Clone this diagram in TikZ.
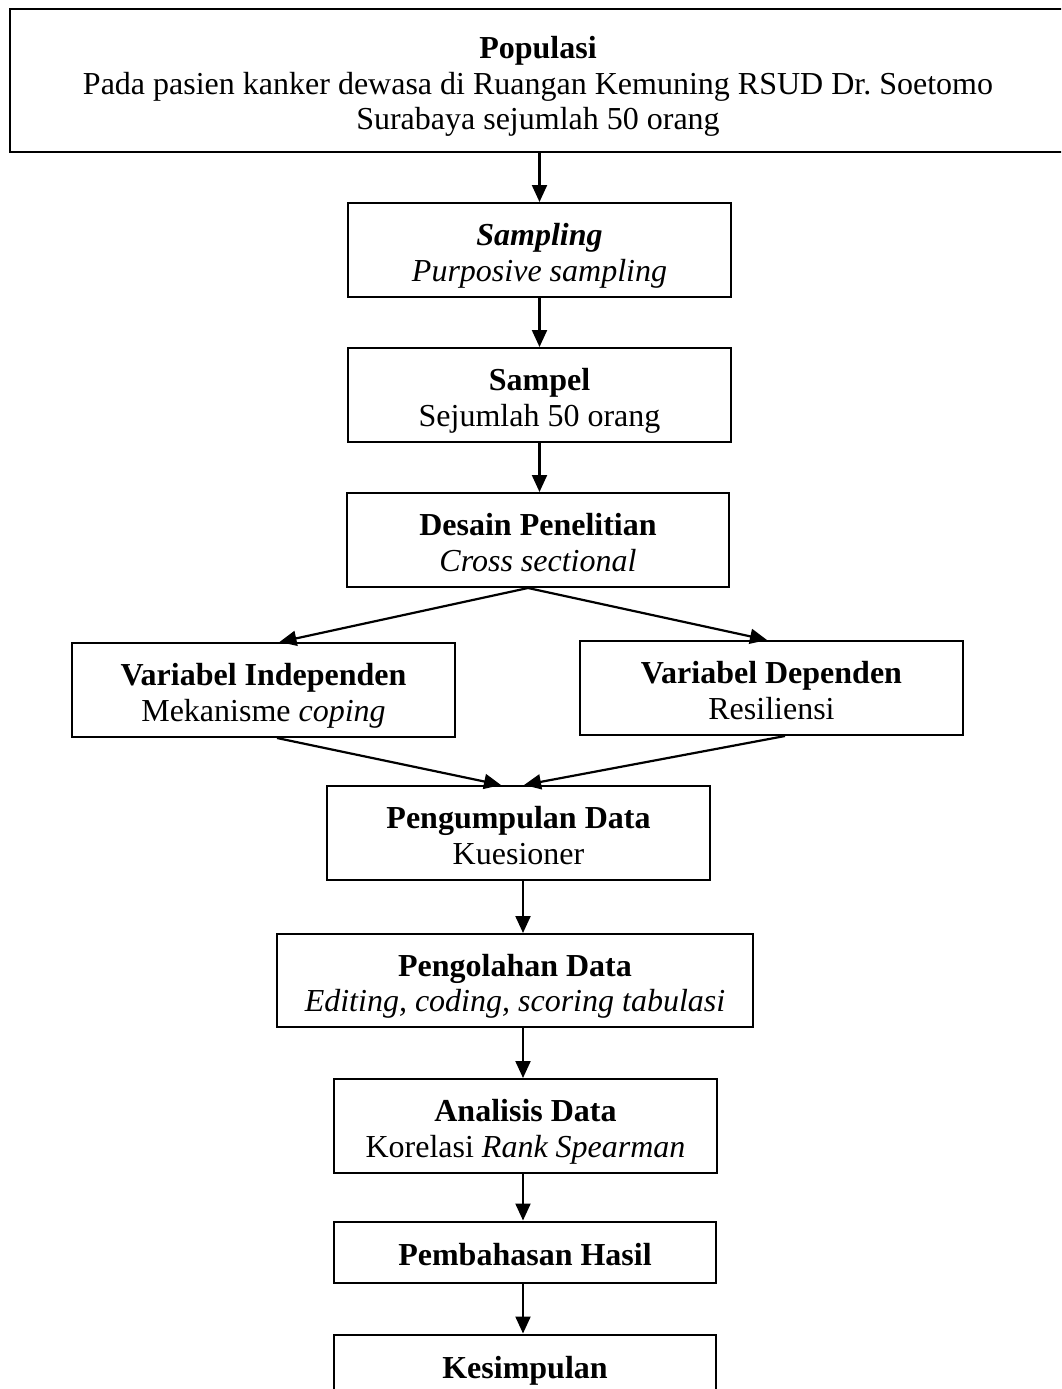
\documentclass[tikz,border=0pt]{standalone}
\usepackage{fontspec}
\setmainfont{Liberation Serif}
\usetikzlibrary{arrows.meta,calc}
\frenchspacing
\newcommand{\mytop}{\rule{0pt}{34pt}}
\newcommand{\mybot}{\rule[-7pt]{0pt}{7pt}}
\begin{document}
\begin{tikzpicture}[x=1pt,y=-1pt,
  box/.style={draw=black,line width=2pt,inner sep=0pt,align=center,
    font=\fontsize{32}{35.5}\selectfont},
  arr/.style={line width=2.2pt,-{Triangle[length=17pt,width=15pt]}}]
\useasboundingbox (0,0) rectangle (1061,1389);
\fill[white] (0,0) rectangle (1061,1389);
\clip (0,0) rectangle (1061,1389);
\node[box,minimum width=1056pt,minimum height=143pt] (pop) at (538,80.5)
  {\mytop\textbf{Populasi}\\Pada pasien kanker dewasa di Ruangan Kemuning RSUD Dr.\ Soetomo\\Surabaya sejumlah 50 orang\mybot};
\node[box,minimum width=383pt,minimum height=94pt] (samp) at (539.5,250)
  {\mytop\textbf{\textit{Sampling}}\\\textit{Purposive sampling}\mybot};
\node[box,minimum width=383pt,minimum height=94pt] (sampel) at (539.5,395)
  {\mytop\textbf{Sampel}\\Sejumlah 50 orang\mybot};
\node[box,minimum width=382pt,minimum height=94pt] (desain) at (538,540)
  {\mytop\textbf{Desain Penelitian}\\\textit{Cross sectional}\mybot};
\node[box,minimum width=383pt,minimum height=94pt] (indep) at (263.5,690)
  {\mytop\textbf{Variabel Independen}\\Mekanisme \textit{coping}\mybot};
\node[box,minimum width=383pt,minimum height=94pt] (dep) at (771.5,688)
  {\mytop\textbf{Variabel Dependen}\\Resiliensi\mybot};
\node[box,minimum width=383pt,minimum height=94pt] (kumpul) at (518.5,833)
  {\mytop\textbf{Pengumpulan Data}\\Kuesioner\mybot};
\node[box,minimum width=476pt,minimum height=93pt] (olah) at (515,980.5)
  {\mytop\textbf{Pengolahan Data}\\\textit{Editing, coding, scoring tabulasi}\mybot};
\node[box,minimum width=383pt,minimum height=94pt] (analisis) at (525.5,1126)
  {\mytop\textbf{Analisis Data}\\Korelasi \textit{Rank Spearman}\mybot};
\node[box,minimum width=382pt,minimum height=61pt] (bahas) at (525,1252)
  {\mytop\textbf{Pembahasan Hasil}\mybot};
\node[box,minimum width=382pt,minimum height=61pt] (simpul) at (525,1365)
  {\mytop\textbf{Kesimpulan}\mybot};
\coordinate (fork) at ($(desain.south)+(-10,0)$);
\coordinate (indin) at ($(indep.north)+(16,0)$);
\coordinate (depin) at ($(dep.north)+(-4.5,0)$);
\coordinate (indout) at ($(indep.south)+(13.5,0)$);
\coordinate (depout) at ($(dep.south)+(13.5,0)$);
\coordinate (kinl) at ($(kumpul.north)+(-17.5,0)$);
\coordinate (kinr) at ($(kumpul.north)+(5.5,0)$);
\coordinate (kout) at ($(kumpul.south)+(4.5,0)$);
\draw[arr] (samp.north |- pop.south) -- (samp.north);
\draw[arr] (samp.south) -- (sampel.north);
\draw[arr] (sampel.south) -- (desain.north -| sampel.south);
\draw[arr] (fork) -- (indin);
\draw[arr] (fork) -- (depin);
\draw[arr] (indout) -- (kinl);
\draw[arr] (depout) -- (kinr);
\draw[arr] (kout) -- (kout |- olah.north);
\draw[arr] (kout |- olah.south) -- (kout |- analisis.north);
\draw[arr] (kout |- analisis.south) -- (kout |- bahas.north);
\draw[arr] (kout |- bahas.south) -- (kout |- simpul.north);
\end{tikzpicture}
\end{document}
